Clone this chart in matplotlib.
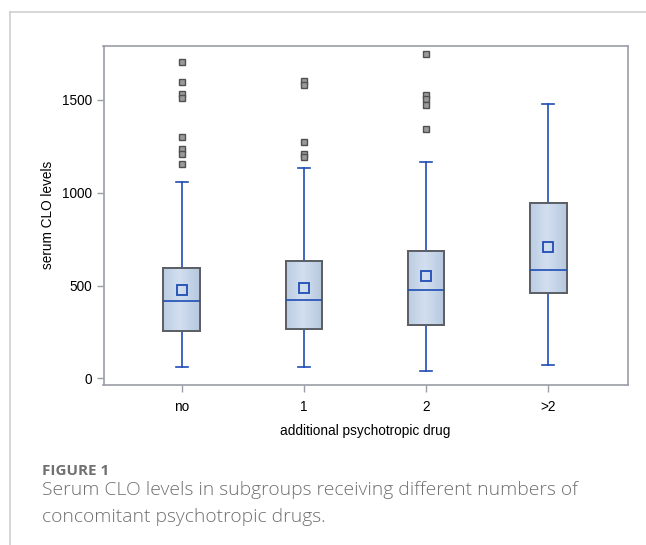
import matplotlib
matplotlib.use('Agg')
import matplotlib.pyplot as plt
import numpy as np
from matplotlib.lines import Line2D

plt.rcParams['font.family'] = ['Liberation Sans', 'DejaVu Sans']

# values
groups = ['no', '1', '2', '>2']
q1 = [254, 265, 288, 461]
medians = [418, 423, 475, 584]
q3 = [596, 631, 684, 943]
means = [477, 489, 552, 706]
whisk_lo = [61, 61, 39, 74]
whisk_hi = [1055, 1133, 1167, 1480]
outliers = [
    [1706, 1595, 1531, 1509, 1299, 1235, 1208, 1154],
    [1602, 1581, 1274, 1211, 1190],
    [1745, 1527, 1505, 1470, 1344],
    [],
]

blue = '#1f4db5'
boxfill = '#c4d4e7'
boxedge = '#5c5f66'
spine = '#9a9ea6'

fig = plt.figure(figsize=(6.46, 5.45), dpi=100)

# page frame lines
fig.add_artist(Line2D([9.5 / 646, 9.5 / 646], [0, 1 - 12 / 545], color='#cfcfcf', lw=1.2))
fig.add_artist(Line2D([9.5 / 646, 1], [1 - 12 / 545, 1 - 12 / 545], color='#cfcfcf', lw=1.2))

ax = fig.add_axes([103.5 / 646, 1 - 385 / 545, (627.7 - 103.5) / 646, (385 - 45.7) / 545])

stats = []
for i in range(len(groups)):
    stats.append({'label': groups[i], 'q1': q1[i], 'med': medians[i], 'q3': q3[i],
                  'mean': means[i], 'whislo': whisk_lo[i], 'whishi': whisk_hi[i],
                  'fliers': outliers[i]})

pos = np.arange(len(groups))
res = ax.bxp(stats, positions=pos, widths=0.3, showmeans=True, patch_artist=True,
             boxprops=dict(facecolor=boxfill, edgecolor=boxedge, linewidth=1.4),
             medianprops=dict(color=blue, linewidth=1.2),
             whiskerprops=dict(color=blue, linewidth=1.2),
             capprops=dict(color=blue, linewidth=1.2),
             capwidths=0.1,
             meanprops=dict(marker='s', markerfacecolor='none', markeredgecolor=blue,
                            markeredgewidth=1.3, markersize=7),
             flierprops=dict(marker='s', markerfacecolor='#9a9a9a', markeredgecolor='#505050',
                             markeredgewidth=1.0, markersize=4.5))

# soft gradient inside each box
grad = np.linspace(0, 1, 64).reshape(1, -1)
cmap = matplotlib.colors.LinearSegmentedColormap.from_list('bx', ['#d2dff0', '#b6c8de'])
for b in res['boxes']:
    ext = b.get_path().get_extents()
    im = ax.imshow(np.abs(grad - 0.45), cmap=cmap, aspect='auto',
                   extent=[ext.x0, ext.x1, ext.y0, ext.y1], zorder=b.get_zorder() + 0.1)
    im.set_clip_path(b)
    edge = plt.Rectangle((ext.x0, ext.y0), ext.width, ext.height, fill=False,
                         edgecolor=boxedge, lw=1.4, zorder=b.get_zorder() + 0.2)
    ax.add_patch(edge)
for key in ['medians', 'means']:
    for ln in res[key]:
        ln.set_zorder(5)

ax.set_xlim(-0.64, 3.65)
ax.set_ylim(-36, 1792)
ax.set_yticks([0, 500, 1000, 1500])
ax.set_xticks(pos)
ax.set_xticklabels(groups)

for s in ax.spines.values():
    s.set_color(spine)
    s.set_linewidth(1.2)
ax.tick_params(colors=spine, labelcolor='black', labelsize=9.8, length=5, width=1)
ax.tick_params(axis='x', pad=6)

ax.set_ylabel('serum CLO levels', fontsize=9.8, labelpad=5)
ax.set_xlabel('additional psychotropic drug', fontsize=9.8, labelpad=7)

# caption
fig.text(42 / 646, 1 - 475 / 545, 'FIGURE 1', fontsize=11, fontweight='bold',
         color='#707070', family=['Open Sans', 'DejaVu Sans'])
fig.text(42 / 646, 1 - 495 / 545, 'Serum CLO levels in subgroups receiving different numbers of',
         fontsize=13.9, color='#707070', family=['Open Sans', 'DejaVu Sans'], fontweight='light')
fig.text(42 / 646, 1 - 522 / 545, 'concomitant psychotropic drugs.',
         fontsize=13.9, color='#707070', family=['Open Sans', 'DejaVu Sans'], fontweight='light')

fig.savefig('out.png', dpi=100)
